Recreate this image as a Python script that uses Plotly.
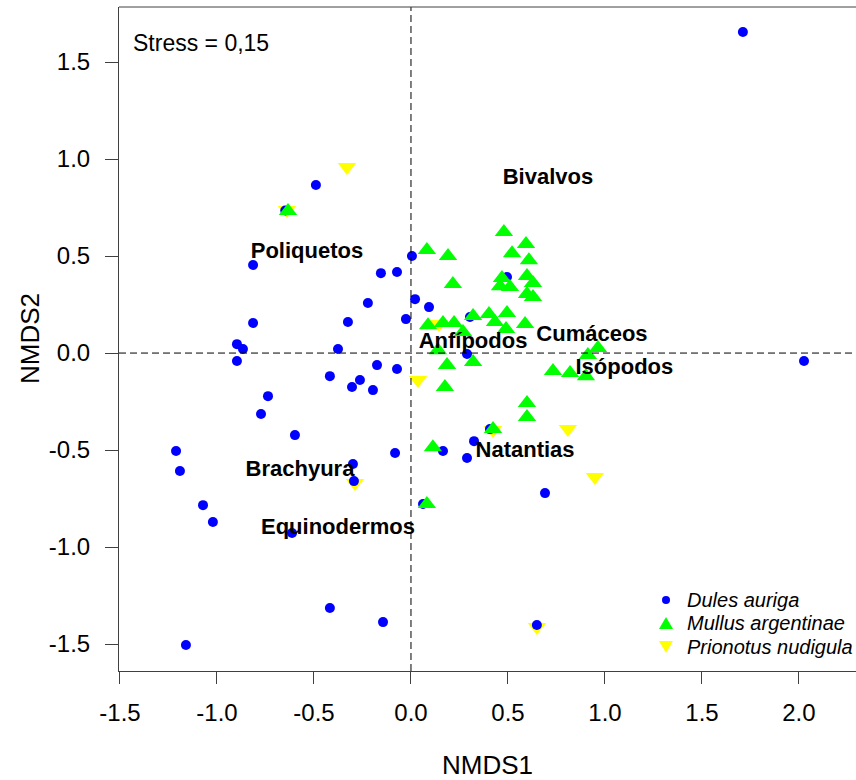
import plotly.graph_objects as go

# NMDS site scores per species
dules_x = [1.711, 2.026, -0.490, -0.814, 0.005, -0.155, -0.072, -0.222, -0.814, -0.325,
           -0.026, -0.897, -0.866, -0.897, -0.376, -0.175, -0.072, -0.418, -0.304, -0.263,
           -0.196, -0.737, -0.773, -0.598, -1.211, -1.191, -0.082, -0.299, -0.294, -1.072,
           -1.021, -0.613, -0.418, -0.144, -1.160, 0.649, 0.691, 0.289, 0.325, 0.165,
           0.407, 0.062, 0.495, 0.021, 0.093, 0.289, 0.304, -0.648]
dules_y = [1.655, -0.041, 0.866, 0.454, 0.500, 0.412, 0.418, 0.258, 0.155, 0.160,
           0.175, 0.046, 0.021, -0.041, 0.021, -0.062, -0.082, -0.119, -0.175, -0.139,
           -0.191, -0.222, -0.314, -0.423, -0.505, -0.608, -0.515, -0.572, -0.660, -0.784,
           -0.871, -0.928, -1.314, -1.387, -1.505, -1.402, -0.722, -0.541, -0.454, -0.505,
           -0.392, -0.778, 0.392, 0.278, 0.237, -0.005, 0.186, 0.735]

mullus_x = [0.479, 0.593, 0.082, 0.191, 0.521, 0.608, 0.216, 0.469, 0.598, 0.629,
            0.459, 0.510, 0.598, 0.629, 0.320, 0.402, 0.495, 0.588, 0.088, 0.165,
            0.222, 0.268, 0.433, 0.490, 0.139, 0.186, 0.320, 0.175, 0.732, 0.820,
            0.902, 0.912, 0.964, 0.598, 0.598, 0.423, 0.113, 0.082, -0.634]
mullus_y = [0.624, 0.562, 0.531, 0.500, 0.515, 0.479, 0.356, 0.387, 0.397, 0.361,
            0.345, 0.340, 0.304, 0.289, 0.191, 0.201, 0.206, 0.150, 0.144, 0.155,
            0.155, 0.108, 0.160, 0.124, 0.015, -0.062, -0.046, -0.175, -0.093, -0.103,
            -0.119, -0.010, 0.026, -0.258, -0.330, -0.392, -0.485, -0.778, 0.732]

prionotus_x = [-0.330, -0.639, 0.036, 0.145, 0.423, 0.809, 0.948, -0.289, 0.649]
prionotus_y = [0.959, 0.737, -0.139, 0.150, -0.397, -0.392, -0.639, -0.670, -1.412]

# Prey group vectors (label positions)
prey_names = ["Bivalvos", "Poliquetos", "Cumáceos", "Anfípodos", "Isópodos",
              "Natantias", "Brachyura", "Equinodermos"]
prey_x = [0.706, -0.536, 0.933, 0.320, 1.100, 0.588, -0.572, -0.376]
prey_y = [0.902, 0.520, 0.088, 0.057, -0.077, -0.510, -0.603, -0.902]

species_names = ["Dules auriga", "Mullus argentinae", "Prionotus nudigula"]
species_colors = ["#0000FF", "#00FF00", "#FFFF00"]

tick_vals = [-1.5, -1.0, -0.5, 0.0, 0.5, 1.0, 1.5, 2.0]
tick_text = ["-1.5", "-1.0", "-0.5", "0.0", "0.5", "1.0", "1.5", "2.0"]
ytick_vals = [-1.5, -1.0, -0.5, 0.0, 0.5, 1.0, 1.5]
ytick_text = ["-1.5", "-1.0", "-0.5", "0.0", "0.5", "1.0", "1.5"]

FONT = "Liberation Sans, Arial, sans-serif"
AXIS_COLOR = "#404040"

# plot area in pixels (for placing the hand-drawn key)
W, H = 856, 780
L, R, T, B = 119, 0, 7, 109
PW, PH = W - L - R, H - T - B


def px(x):
    return (x - L) / PW


def py(y):
    return (H - B - y) / PH


fig = go.Figure()

fig.add_trace(go.Scatter(
    x=prionotus_x, y=prionotus_y, mode="markers", name=species_names[2],
    marker=dict(symbol="triangle-down", size=16, color=species_colors[2], line=dict(width=0))))
fig.add_trace(go.Scatter(
    x=dules_x, y=dules_y, mode="markers", name=species_names[0],
    marker=dict(symbol="circle", size=10, color=species_colors[0], line=dict(width=0))))
fig.add_trace(go.Scatter(
    x=mullus_x, y=mullus_y, mode="markers", name=species_names[1],
    marker=dict(symbol="triangle-up", size=16, color=species_colors[1], line=dict(width=0))))
fig.add_trace(go.Scatter(
    x=prey_x, y=prey_y, mode="text", text=[f"<b>{n}</b>" for n in prey_names],
    textfont=dict(family=FONT, size=22, color="black"), textposition="middle center",
    hoverinfo="skip"))

# zero reference lines
fig.add_shape(type="line", xref="x", yref="paper", x0=0, x1=0, y0=0, y1=1,
              line=dict(color="black", width=1, dash="7px,4px"))
fig.add_shape(type="line", xref="paper", yref="y", x0=0, x1=1, y0=0, y1=0,
              line=dict(color="black", width=1, dash="7px,4px"))
# top edge of the frame
fig.add_shape(type="line", xref="paper", yref="paper", x0=0, x1=1, y0=1, y1=1,
              line=dict(color=AXIS_COLOR, width=1))

# key in the lower right corner
key_x, key_rows, key_text_x = 666, [600, 623, 647], 685
cx, cy = key_x, key_rows[0]
fig.add_shape(type="circle", xref="paper", yref="paper",
              x0=px(cx - 4), x1=px(cx + 4), y0=py(cy + 4), y1=py(cy - 4),
              fillcolor=species_colors[0], line=dict(width=0))
cy = key_rows[1]
fig.add_shape(type="path", xref="paper", yref="paper", fillcolor=species_colors[1],
              line=dict(width=0),
              path=f"M{px(cx - 7)},{py(cy + 6)} L{px(cx + 7)},{py(cy + 6)} L{px(cx)},{py(cy - 6)} Z")
cy = key_rows[2]
fig.add_shape(type="path", xref="paper", yref="paper", fillcolor=species_colors[2],
              line=dict(width=0),
              path=f"M{px(cx - 7)},{py(cy - 6)} L{px(cx + 7)},{py(cy - 6)} L{px(cx)},{py(cy + 6)} Z")
for name, ry in zip(species_names, key_rows):
    fig.add_annotation(text=f"<i>{name}</i>", xref="paper", yref="paper",
                       x=px(key_text_x), y=py(ry), xanchor="left", yanchor="middle",
                       showarrow=False, font=dict(family=FONT, size=20, color="black"))

fig.add_annotation(text="Stress = 0,15", xref="paper", yref="paper",
                   x=px(131), y=py(43), xanchor="left", yanchor="middle", showarrow=False,
                   font=dict(family=FONT, size=23, color="black"))
fig.add_annotation(text="NMDS1", xref="paper", yref="paper",
                   x=0.5, y=py(765), xanchor="center", yanchor="middle", showarrow=False,
                   font=dict(family=FONT, size=26, color="black"))
fig.add_annotation(text="NMDS2", xref="paper", yref="paper", textangle=-90,
                   x=px(30), y=0.5, xanchor="center", yanchor="middle", showarrow=False,
                   font=dict(family=FONT, size=26, color="black"))

fig.update_layout(
    width=W, height=H,
    margin=dict(l=L, r=R, t=T, b=B),
    paper_bgcolor="white", plot_bgcolor="white",
    font=dict(family=FONT, color="black"),
    showlegend=False,
    xaxis=dict(range=[-1.505, 2.294], showgrid=False, zeroline=False,
               showline=True, linecolor=AXIS_COLOR, linewidth=1,
               ticks="outside", ticklen=12, tickcolor=AXIS_COLOR, tickwidth=1,
               tickvals=tick_vals, ticktext=tick_text,
               tickfont=dict(family=FONT, size=24, color="black"), ticklabelstandoff=8),
    yaxis=dict(range=[-1.639, 1.784], showgrid=False, zeroline=False,
               showline=True, linecolor=AXIS_COLOR, linewidth=1,
               ticks="outside", ticklen=13, tickcolor=AXIS_COLOR, tickwidth=1,
               tickvals=ytick_vals, ticktext=ytick_text,
               tickfont=dict(family=FONT, size=24, color="black"), ticklabelstandoff=10),
)

fig.write_html("out.html")
